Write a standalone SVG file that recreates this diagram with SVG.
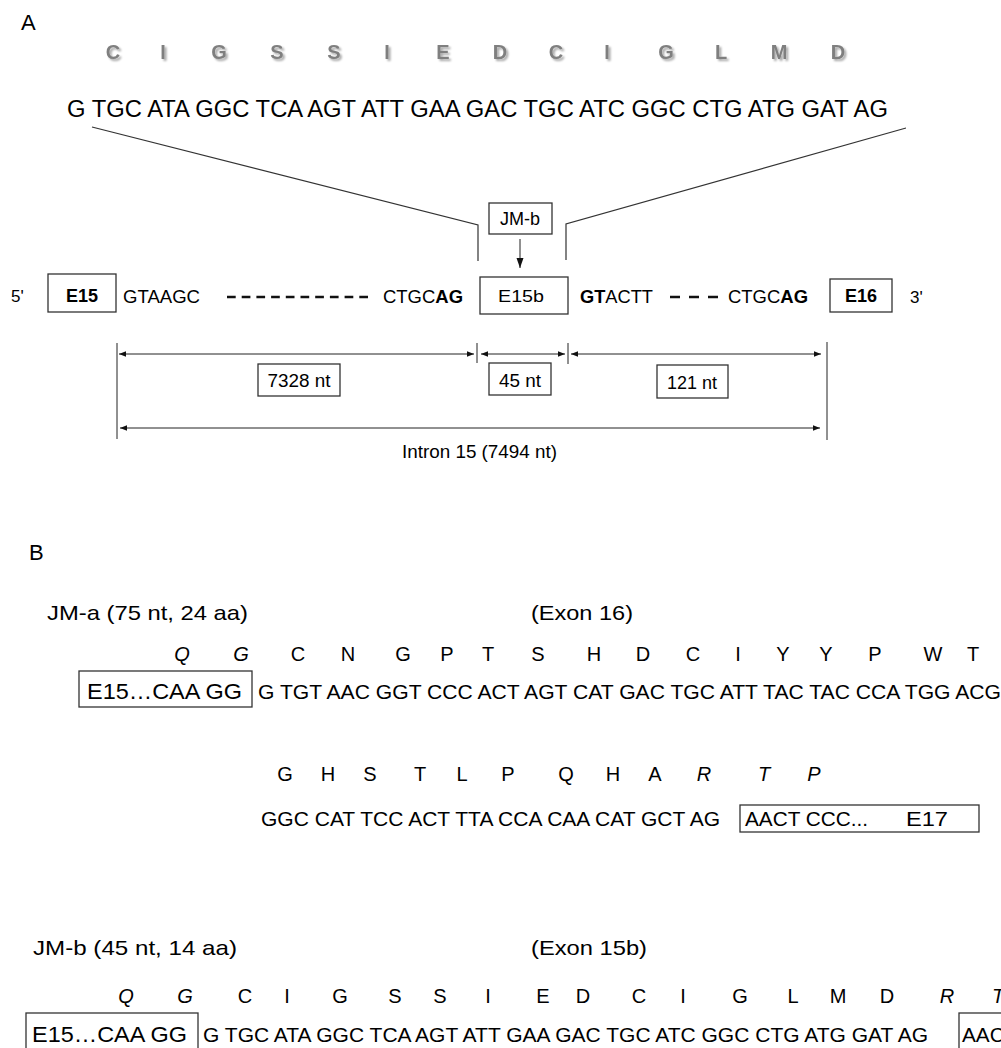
<svg xmlns="http://www.w3.org/2000/svg" width="1001" height="1048" viewBox="0 0 1001 1048">
<defs>
<style>
.t{font-family:"Liberation Sans",Arial,sans-serif;fill:#000}
.aa{font-family:"Liberation Sans",Arial,sans-serif;font-weight:bold;font-size:20px;fill:#7f7f7f;text-anchor:middle}
.ab{font-family:"Liberation Sans",Arial,sans-serif;font-size:20px;fill:#000;text-anchor:middle}
.i{font-style:italic}
.b{font-weight:bold}
.box{fill:#fff;stroke:#333;stroke-width:1.3}
.ln{fill:none;stroke:#333;stroke-width:1.2}
.dim{fill:none;stroke:#222;stroke-width:1}
</style>
<marker id="ah" viewBox="0 0 10 10" refX="10" refY="5" markerWidth="7" markerHeight="7" markerUnits="userSpaceOnUse" orient="auto-start-reverse">
<path d="M0,1 L10,5 L0,9 z" fill="#111"/>
</marker>
<marker id="ah2" viewBox="0 0 10 10" refX="10" refY="5" markerWidth="10" markerHeight="10" markerUnits="userSpaceOnUse" orient="auto">
<path d="M0,1.5 L10,5 L0,8.5 z" fill="#111"/>
</marker>
<filter id="sh" x="-20%" y="-20%" width="140%" height="140%">
<feGaussianBlur in="SourceAlpha" stdDeviation="1"/>
<feOffset dx="1.5" dy="1.5" result="o"/>
<feComponentTransfer><feFuncA type="linear" slope="0.35"/></feComponentTransfer>
<feMerge><feMergeNode/><feMergeNode in="SourceGraphic"/></feMerge>
</filter>
</defs>
<rect width="1001" height="1048" fill="#fff"/>

<!-- Panel A -->
<text class="t" x="21" y="30" font-size="22">A</text>
<g id="aa-top" filter="url(#sh)">
<text class="aa" x="113" y="59">C</text>
<text class="aa" x="163" y="59">I</text>
<text class="aa" x="219" y="59">G</text>
<text class="aa" x="277" y="59">S</text>
<text class="aa" x="334" y="59">S</text>
<text class="aa" x="387" y="59">I</text>
<text class="aa" x="443" y="59">E</text>
<text class="aa" x="500" y="59">D</text>
<text class="aa" x="556" y="59">C</text>
<text class="aa" x="607" y="59">I</text>
<text class="aa" x="666" y="59">G</text>
<text class="aa" x="721" y="59">L</text>
<text class="aa" x="779" y="59">M</text>
<text class="aa" x="838" y="59">D</text>
</g>
<text class="t" x="67" y="117" font-size="23" textLength="821" lengthAdjust="spacingAndGlyphs">G TGC ATA GGC TCA AGT ATT GAA GAC TGC ATC GGC CTG ATG GAT AG</text>

<g id="connectors">
<polyline class="ln" points="92,127 478,225 478,261"/>
<polyline class="ln" points="906,128 566,224 566,260"/>
<line class="dim" x1="520" y1="239" x2="520" y2="268" stroke-width="1.8" marker-end="url(#ah2)"/>
<line x1="227" y1="297" x2="368" y2="297" stroke="#111" stroke-width="2.4" stroke-dasharray="8.7 6"/>
<line x1="670" y1="297" x2="718" y2="297" stroke="#111" stroke-width="2.4" stroke-dasharray="10 9"/>
<line class="dim" x1="117" y1="343" x2="117" y2="439"/>
<line class="dim" x1="827" y1="342" x2="827" y2="440"/>
<line class="dim" x1="477" y1="343" x2="477" y2="363"/>
<line class="dim" x1="568" y1="343" x2="568" y2="364"/>
<line class="dim" x1="119" y1="354" x2="474" y2="354" marker-start="url(#ah)" marker-end="url(#ah)"/>
<line class="dim" x1="481" y1="354" x2="565" y2="354" marker-start="url(#ah)" marker-end="url(#ah)"/>
<line class="dim" x1="571" y1="354" x2="821" y2="354" marker-start="url(#ah)" marker-end="url(#ah)"/>
<line class="dim" x1="120" y1="428" x2="820" y2="428" marker-start="url(#ah)" marker-end="url(#ah)"/>
</g>

<text class="t" x="11" y="302" font-size="17">5'</text>
<g id="E15">
<rect class="box" x="48" y="274" width="68" height="38"/>
<text class="t b" x="82" y="302" font-size="18" text-anchor="middle">E15</text>
</g>
<text class="t" x="123" y="303" font-size="18" textLength="77" lengthAdjust="spacingAndGlyphs">GTAAGC</text>
<text class="t" x="383" y="303" font-size="18" textLength="80" lengthAdjust="spacingAndGlyphs">CTGC<tspan class="b">AG</tspan></text>
<g id="JMb">
<rect class="box" x="489" y="203" width="63" height="31"/>
<text class="t" x="520" y="225" font-size="18" text-anchor="middle">JM-b</text>
</g>
<g id="E15b">
<rect class="box" x="480" y="277" width="88" height="37"/>
<text class="t" x="521" y="302" font-size="17" text-anchor="middle" textLength="46" lengthAdjust="spacingAndGlyphs">E15b</text>
</g>
<text class="t" x="580" y="303" font-size="18" textLength="73" lengthAdjust="spacingAndGlyphs"><tspan class="b">GT</tspan>ACTT</text>
<text class="t" x="728" y="303" font-size="18" textLength="80" lengthAdjust="spacingAndGlyphs">CTGC<tspan class="b">AG</tspan></text>
<g id="E16">
<rect class="box" x="830" y="279" width="62" height="33"/>
<text class="t b" x="861" y="302" font-size="18" text-anchor="middle">E16</text>
</g>
<text class="t" x="910" y="303" font-size="17">3'</text>

<g id="len7328">
<rect class="box" x="258" y="364" width="82" height="32"/>
<text class="t" x="299" y="387" font-size="18" text-anchor="middle" textLength="63" lengthAdjust="spacingAndGlyphs">7328 nt</text>
</g>
<g id="len45">
<rect class="box" x="489" y="363" width="62" height="32"/>
<text class="t" x="520" y="387" font-size="18" text-anchor="middle" textLength="42" lengthAdjust="spacingAndGlyphs">45 nt</text>
</g>
<g id="len121">
<rect class="box" x="657" y="365" width="71" height="33"/>
<text class="t" x="692" y="389" font-size="18" text-anchor="middle" textLength="50" lengthAdjust="spacingAndGlyphs">121 nt</text>
</g>
<text class="t" x="402" y="458" font-size="18" textLength="155" lengthAdjust="spacingAndGlyphs">Intron 15 (7494 nt)</text>

<!-- Panel B -->
<text class="t" x="29" y="560" font-size="22">B</text>
<text class="t" x="47" y="620" font-size="21" textLength="201" lengthAdjust="spacingAndGlyphs">JM-a (75 nt, 24 aa)</text>
<text class="t" x="531" y="620" font-size="21" textLength="102" lengthAdjust="spacingAndGlyphs">(Exon 16)</text>
<g id="aa-jma1">
<text class="ab i" x="182" y="661">Q</text>
<text class="ab i" x="241" y="661">G</text>
<text class="ab" x="298" y="661">C</text>
<text class="ab" x="348" y="661">N</text>
<text class="ab" x="403" y="661">G</text>
<text class="ab" x="447" y="661">P</text>
<text class="ab" x="488" y="661">T</text>
<text class="ab" x="538" y="661">S</text>
<text class="ab" x="594" y="661">H</text>
<text class="ab" x="643" y="661">D</text>
<text class="ab" x="693" y="661">C</text>
<text class="ab" x="738" y="661">I</text>
<text class="ab" x="783" y="661">Y</text>
<text class="ab" x="826" y="661">Y</text>
<text class="ab" x="875" y="661">P</text>
<text class="ab" x="933" y="661">W</text>
<text class="ab" x="973" y="661">T</text>
</g>
<g id="jma-E15">
<rect class="box" x="79" y="671" width="173" height="36"/>
<text class="t" x="87" y="699" font-size="22" textLength="155" lengthAdjust="spacingAndGlyphs">E15…CAA GG</text>
</g>
<text class="t" x="258" y="699" font-size="21" textLength="743" lengthAdjust="spacingAndGlyphs">G TGT AAC GGT CCC ACT AGT CAT GAC TGC ATT TAC TAC CCA TGG ACG</text>

<g id="aa-jma2">
<text class="ab" x="285" y="781">G</text>
<text class="ab" x="328" y="781">H</text>
<text class="ab" x="370" y="781">S</text>
<text class="ab" x="420" y="781">T</text>
<text class="ab" x="462" y="781">L</text>
<text class="ab" x="508" y="781">P</text>
<text class="ab" x="566" y="781">Q</text>
<text class="ab" x="613" y="781">H</text>
<text class="ab" x="655" y="781">A</text>
<text class="ab i" x="704" y="781">R</text>
<text class="ab i" x="764" y="781">T</text>
<text class="ab i" x="814" y="781">P</text>
</g>
<text class="t" x="261" y="826" font-size="21" textLength="459" lengthAdjust="spacingAndGlyphs">GGC CAT TCC ACT TTA CCA CAA CAT GCT AG</text>
<g id="jma-E17">
<rect class="box" x="740" y="805" width="239" height="27"/>
<text class="t" x="745" y="826" font-size="21" textLength="123" lengthAdjust="spacingAndGlyphs">AACT CCC...</text>
<text class="t" x="906" y="826" font-size="21" textLength="42" lengthAdjust="spacingAndGlyphs">E17</text>
</g>

<text class="t" x="33" y="955" font-size="21" textLength="204" lengthAdjust="spacingAndGlyphs">JM-b (45 nt, 14 aa)</text>
<text class="t" x="531" y="955" font-size="21" textLength="116" lengthAdjust="spacingAndGlyphs">(Exon 15b)</text>
<g id="aa-jmb">
<text class="ab i" x="126" y="1003">Q</text>
<text class="ab i" x="185" y="1003">G</text>
<text class="ab" x="245" y="1003">C</text>
<text class="ab" x="287" y="1003">I</text>
<text class="ab" x="340" y="1003">G</text>
<text class="ab" x="395" y="1003">S</text>
<text class="ab" x="440" y="1003">S</text>
<text class="ab" x="488" y="1003">I</text>
<text class="ab" x="543" y="1003">E</text>
<text class="ab" x="583" y="1003">D</text>
<text class="ab" x="639" y="1003">C</text>
<text class="ab" x="683" y="1003">I</text>
<text class="ab" x="740" y="1003">G</text>
<text class="ab" x="793" y="1003">L</text>
<text class="ab" x="838" y="1003">M</text>
<text class="ab" x="887" y="1003">D</text>
<text class="ab i" x="947" y="1003">R</text>
<text class="ab i" x="998" y="1003">T</text>
</g>
<g id="jmb-E15">
<rect class="box" x="26" y="1013" width="172" height="40"/>
<text class="t" x="32" y="1042" font-size="22" textLength="155" lengthAdjust="spacingAndGlyphs">E15…CAA GG</text>
</g>
<text class="t" x="203" y="1042" font-size="21" textLength="725" lengthAdjust="spacingAndGlyphs">G TGC ATA GGC TCA AGT ATT GAA GAC TGC ATC GGC CTG ATG GAT AG</text>
<g id="jmb-E17">
<rect class="box" x="959" y="1013" width="239" height="40"/>
<text class="t" x="962" y="1042" font-size="21" textLength="123" lengthAdjust="spacingAndGlyphs">AACT CCC...</text>
</g>
</svg>
